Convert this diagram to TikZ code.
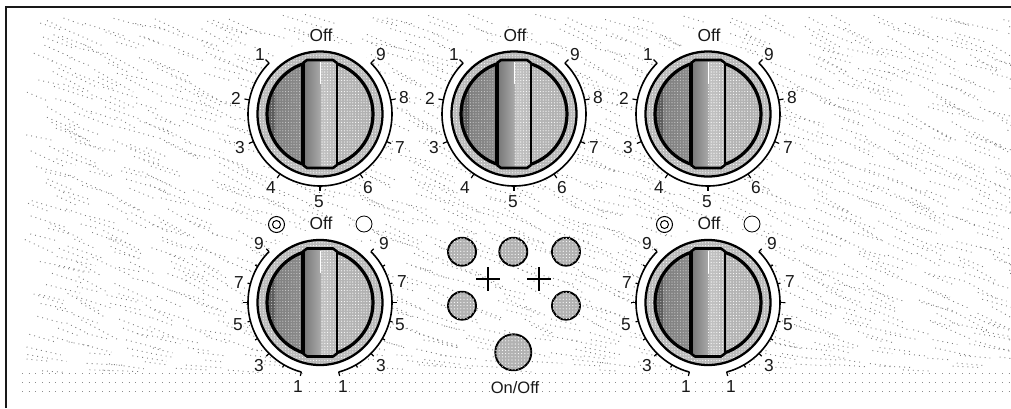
\documentclass[tikz,border=0pt]{standalone}
\usepackage{fontspec}
\setmainfont{Liberation Sans}
\usetikzlibrary{patterns.meta}
\pgfdeclarehorizontalshading{kleft}{100bp}{
  color(0bp)=(black!62); color(25bp)=(black!64); color(36bp)=(black!64); color(37bp)=(black!50); color(70bp)=(black!46); color(100bp)=(black!54)}
\pgfdeclarehorizontalshading{kbar}{100bp}{
  color(0bp)=(black!78); color(12bp)=(black!68); color(30bp)=(black!50); color(50bp)=(black!34); color(52bp)=(black!24); color(80bp)=(black!28); color(100bp)=(black!34)}
\pgfdeclarehorizontalshading{kright}{100bp}{
  color(0bp)=(black!28); color(100bp)=(black!32)}
\tikzset{
  lbl/.style={font=\fontsize{13}{15}\selectfont, fill=white, inner sep=0.4pt, text=black!90},
  knobtick/.style={line width=0.9pt, black},
  scalearc/.style={line width=1.2pt, black},
  framerule/.style={line width=1.7pt, black!90},
  speck/.style={line width=0.7pt, black!50, dash pattern=on 0.7pt off 3pt},
  speckflat/.style={line width=0.7pt, black!45, dash pattern=on 0.7pt off 4.3pt},
  dither/.style={pattern={Dots[distance=2.1pt, radius=0.42pt]}, pattern color=white},
  btn/.style={circle, draw=black, line width=1.4pt, fill=black!30, minimum size=#1, inner sep=0pt, postaction={pattern={Dots[distance=2.4pt, radius=0.45pt]}, pattern color=white}},
}
% knob body at the origin of the current scope
\newcommand\knobbody{%
  \fill[white] (0,0) circle[radius=73];
  \fill[black!27] (0,0) circle[radius=62.5];
  \fill[dither] (0,0) circle[radius=62.5];
  \draw[line width=1.7pt] (0,0) circle[radius=62.5];
  \begin{scope}
    \clip (0,0) circle[radius=53];
    \fill[shading=kleft] (-54,-54) rectangle (-17,54);
    \fill[shading=kright] (17,-54) rectangle (54,54);
    \fill[dither,pattern color=white!80!black] (-54,-54) rectangle (-17,54);
    \fill[dither] (17,-54) rectangle (54,54);
  \end{scope}
  \draw[line width=2.4pt] (0,0) circle[radius=53];
  \path[shading=kbar] (-17,-51) -- (-13,-54) -- (13,-54) -- (17,-51) -- (17,51) -- (13,54) -- (-13,54) -- (-17,51) -- cycle;
  \fill[dither] (0,-53) rectangle (16,53);
  \draw[white, line width=0.7pt] (0,-52) -- (0,-30);
  \draw[line width=1.9pt, line join=round] (-17,51) -- (-13,54) -- (13,54) -- (17,51);
  \draw[line width=1.9pt, line join=round] (-17,-51) -- (-13,-54) -- (13,-54) -- (17,-51);
  \draw[line width=2.6pt] (-17,-51) -- (-17,51);
  \draw[line width=1.3pt] (17,-51) -- (17,51);
}
\newcommand\topknob[2]{%
  \begin{scope}[shift={(#1,114)}]
    \knobbody
    \draw[scalearc] (-135:72) arc[start angle=-135, end angle=-405, radius=72];
    \foreach \a in {0,...,8}{
      \draw[knobtick] (-135-\a*33.75:72) -- (-135-\a*33.75:77);
    }
    \node[lbl] (#2off) at (1,-79) {Off};
    \node[lbl] (#2a) at (-60,-59) {1};
    \node[lbl] (#2b) at (-84,-16) {2};
    \node[lbl] (#2c) at (-80,34) {3};
    \node[lbl] (#2d) at (-49,74) {4};
    \node[lbl] (#2e) at (-1,88) {5};
    \node[lbl] (#2f) at (48,74) {6};
    \node[lbl] (#2g) at (80,34) {7};
    \node[lbl] (#2h) at (84,-16) {8};
    \node[lbl] (#2i) at (61,-59) {9};
  \end{scope}}
\newcommand\lowknob[2]{%
  \begin{scope}[shift={(#1,302.5)}]
    \knobbody
    \foreach \s in {1,-1}{
      \begin{scope}[xscale=\s]
        \draw[scalearc] (-135:72) arc[start angle=-135, end angle=-255, radius=72];
        \foreach \a/\r in {0/76,1/75,2/75,3/77,4/75,5/75,6/76,7/75,8/76}{
          \draw[knobtick] (-135-\a*15:72) -- (-135-\a*15:\r);
        }
      \end{scope}
    }
    \node[lbl] (#2off) at (1,-79) {Off};
    \node[lbl] (#2a) at (-61,-59) {9};
    \node[lbl] (#2b) at (-81,-20) {7};
    \node[lbl] (#2c) at (-82,22.5) {5};
    \node[lbl] (#2d) at (-61,63) {3};
    \node[lbl] (#2e) at (-22,84) {1};
    \node[lbl] (#2f) at (64,-59) {9};
    \node[lbl] (#2g) at (82,-21) {7};
    \node[lbl] (#2h) at (80,22) {5};
    \node[lbl] (#2i) at (61,63) {3};
    \node[lbl] (#2j) at (23,84) {1};
    \fill[white] (-43.5,-78) circle[radius=10];
    \fill[white] (44,-78.5) circle[radius=10];
    \node[circle, draw=black, line width=0.75pt, minimum size=12pt, inner sep=0pt] (#2dbl) at (-43.5,-78) {};
    \node[circle, draw=black, line width=0.75pt, minimum size=6pt, inner sep=0pt] (#2dbi) at (-43.5,-78) {};
    \node[circle, draw=black, line width=0.6pt, minimum size=12pt, inner sep=0pt] (#2sgl) at (44,-78.5) {};
  \end{scope}}
\begin{document}
\begin{tikzpicture}[x=0.75pt,y=-0.75pt]
\useasboundingbox (0,0) rectangle (1011,408);
% speckled background
\begin{scope}
  \clip (22,13) rectangle (1011,392);
  \pgfmathsetseed{11}
  \foreach \y in {14,21,...,365}{
    \foreach \x in {22,62,...,1011}{
      \pgfmathsetmacro\xa{\x+rnd*38}
      \pgfmathsetmacro\ya{\y+rnd*7}
      \pgfmathsetmacro\ln{18+rnd*22}
      \pgfmathsetmacro\sl{(0.2+0.4*rnd)*max(0.08,min(1,(372-\y)/60))}
      \draw[speck] (\xa,\ya) -- ++(\ln,\ln*\sl);
    }
  }
  \foreach \y in {373,382,391}{
    \draw[speckflat] (22,\y) -- (1011,\y);
  }
\end{scope}
% frame
\draw[framerule] (6.3,408) -- (6.3,6.8) -- (1011,6.8);
% knobs
\topknob{320}{ka}
\topknob{514}{kb}
\topknob{708}{kc}
\lowknob{320}{kd}
\lowknob{708}{ke}
% buttons
\node[btn=21pt] (b1) at (462,251.7) {};
\node[btn=21pt] (b2) at (513.3,251.7) {};
\node[btn=21pt] (b3) at (566,251.7) {};
\node[btn=21pt] (b4) at (462,305.7) {};
\node[btn=21pt] (b5) at (566,305.7) {};
\node[btn=27pt] (b6) at (513.3,352.3) {};
\node[lbl, font=\fontsize{12.4}{14}\selectfont] (onoff) at (515,387.5) {On/Off};
% plus marks
\draw[line width=1pt] (476,279) -- (500,279) (488,267) -- (488,291);
\draw[line width=1pt] (527,279) -- (551,279) (539,267) -- (539,291);
\end{tikzpicture}
\end{document}
